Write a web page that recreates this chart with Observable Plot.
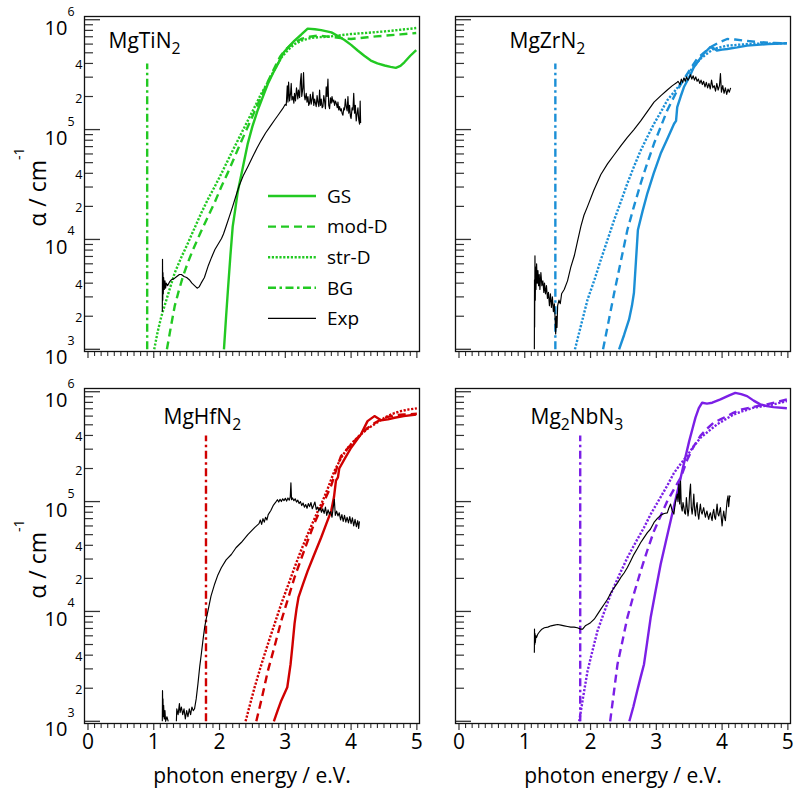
<!DOCTYPE html>
<html><head><meta charset="utf-8">
<script src="https://cdn.jsdelivr.net/npm/d3@7"></script>
<script src="https://cdn.jsdelivr.net/npm/@observablehq/plot@0.6"></script>
<style>
html,body{margin:0;padding:0;background:#fff;}
#wrap{position:relative;width:794px;height:798px;font-family:"Open Sans",sans-serif;}
</style></head><body><div id="wrap"></div>
<script>
// ---------- axis ticks & labels ----------
const energyTicks = [0, 1, 2, 3, 4, 5];
const energyTickLabels = ["0", "1", "2", "3", "4", "5"];
const energyMinorTicks = [0.1,0.2,0.3,0.4,0.5,0.6,0.7,0.8,0.9,1.1,1.2,1.3,1.4,1.5,1.6,1.7,1.8,1.9,2.1,2.2,2.3,2.4,2.5,2.6,2.7,2.8,2.9,3.1,3.2,3.3,3.4,3.5,3.6,3.7,3.8,3.9,4.1,4.2,4.3,4.4,4.5,4.6,4.7,4.8,4.9];
const decadeTicks = [1e3, 1e4, 1e5, 1e6];
const decadeLabels = ["10^{3}", "10^{4}", "10^{5}", "10^{6}"];
const minorTicksY = [2e3,3e3,4e3,5e3,6e3,7e3,8e3,9e3,2e4,3e4,4e4,5e4,6e4,7e4,8e4,9e4,2e5,3e5,4e5,5e5,6e5,7e5,8e5,9e5];
const labeledMinorTicks = [2e3, 4e3, 2e4, 4e4, 2e5, 4e5];
const labeledMinorText = ["2", "4", "2", "4", "2", "4"];
const xLabel = "photon energy / e.V.";
const yLabel = "α / cm^{-1}";

// ---------- panels & series ----------
const panelNames = ["MgTiN_{2}", "MgZrN_{2}", "MgHfN_{2}", "Mg_{2}NbN_{3}"];
const panelColors = ["#22c922", "#1b8fd6", "#d00000", "#7b1fe6"];
const seriesNames = ["GS", "mod-D", "str-D", "BG", "Exp"];

// MgTiN2  [photon energy eV, alpha cm^-1]
const TiN_GS = [[2.067,1.0e3],[2.10,2.0e3],[2.128,3.5e3],[2.165,7.1e3],[2.20,1.31e4],[2.24,1.9e4],[2.277,2.72e4],[2.35,4.4e4],[2.43,7.5e4],[2.50,1.07e5],[2.58,1.5e5],[2.66,2.0e5],[2.735,2.61e5],[2.81,3.24e5],[2.887,3.96e5],[2.978,5.06e5],[3.06,5.75e5],[3.14,6.46e5],[3.24,7.3e5],[3.34,8.3e5],[3.45,8.2e5],[3.545,8.05e5],[3.70,7.67e5],[3.80,7.1e5],[3.90,6.53e5],[4.00,5.9e5],[4.10,5.25e5],[4.20,4.7e5],[4.30,4.25e5],[4.40,4.0e5],[4.51,3.83e5],[4.60,3.72e5],[4.68,3.65e5],[4.75,3.8e5],[4.81,4.1e5],[4.90,4.7e5],[4.99,5.3e5]];
const TiN_modD = [[1.20,1.0e3],[1.26,1.6e3],[1.318,2.47e3],[1.38,3.4e3],[1.444,4.62e3],[1.52,6.2e3],[1.596,8.05e3],[1.71,1.15e4],[1.824,1.61e4],[1.93,2.2e4],[2.027,3.02e4],[2.13,4.1e4],[2.23,5.65e4],[2.33,7.8e4],[2.43,1.06e5],[2.53,1.45e5],[2.63,1.98e5],[2.73,2.7e5],[2.84,3.7e5],[2.92,4.6e5],[2.99,5.24e5],[3.10,6.0e5],[3.24,6.68e5],[3.37,7.0e5],[3.49,7.16e5],[3.62,7.05e5],[3.75,6.92e5],[3.88,6.75e5],[4.0,6.68e5],[4.12,6.8e5],[4.25,6.92e5],[4.38,7.05e5],[4.51,7.16e5],[4.75,7.35e5],[4.99,7.57e5]];
const TiN_strD = [[1.007,1.0e3],[1.06,1.45e3],[1.116,2.0e3],[1.22,3.2e3],[1.318,4.95e3],[1.42,6.9e3],[1.52,9.27e3],[1.62,1.27e4],[1.72,1.73e4],[1.82,2.3e4],[1.926,3.02e4],[2.03,4.0e4],[2.128,5.27e4],[2.23,7.0e4],[2.33,9.2e4],[2.43,1.21e5],[2.533,1.6e5],[2.63,2.1e5],[2.735,2.7e5],[2.84,3.55e5],[2.94,4.53e5],[3.04,5.3e5],[3.14,6.0e5],[3.26,6.5e5],[3.39,6.82e5],[3.52,6.95e5],[3.65,7.0e5],[3.82,7.2e5],[4.0,7.41e5],[4.25,7.6e5],[4.51,7.83e5],[4.75,8.1e5],[4.99,8.4e5]];
const TiN_BG = [[0.90,1.0e3],[0.90,4.0e5]];
const TiN_Exp = [[1.13,2.2e3],[1.133,6.6e3],[1.137,2.8e3],[1.14,5.0e3],[1.145,3.2e3],[1.15,4.5e3],[1.16,3.5e3],[1.17,4.2e3],[1.18,3.6e3],[1.19,4.0e3],[1.21,3.8e3],[1.24,4.1e3],[1.27,4.3e3],[1.31,4.4e3],[1.35,4.6e3],[1.39,4.8e3],[1.42,4.8e3],[1.46,4.6e3],[1.50,4.5e3],[1.54,4.3e3],[1.58,4.0e3],[1.62,3.8e3],[1.66,3.6e3],[1.69,3.7e3],[1.72,4.0e3],[1.77,4.5e3],[1.83,5.8e3],[1.88,6.9e3],[1.93,8.1e3],[1.98,9.1e3],[2.03,1.02e4],[2.06,1.12e4],[2.10,1.32e4],[2.15,1.62e4],[2.20,2.0e4],[2.25,2.5e4],[2.30,3.1e4],[2.36,3.8e4],[2.43,4.6e4],[2.50,5.6e4],[2.57,6.8e4],[2.63,7.9e4],[2.70,9.3e4],[2.77,1.07e5],[2.84,1.23e5],[2.90,1.38e5],[2.96,1.55e5],[3.00,1.70e5],
[3.014,1.66e5],[3.03,2.5e5],[3.04,1.78e5],[3.05,2.7e5],[3.065,1.82e5],[3.08,2.14e5],[3.09,2.63e5],[3.10,1.86e5],[3.116,2.0e5],[3.13,1.74e5],[3.14,2.14e5],[3.155,1.82e5],[3.17,2.4e5],[3.19,1.9e5],[3.20,2.29e5],[3.217,1.95e5],[3.23,2.75e5],[3.242,3.24e5],[3.25,2.0e5],[3.267,2.4e5],[3.277,3.3e5],[3.29,2.04e5],[3.30,1.86e5],[3.318,2.14e5],[3.33,1.78e5],[3.344,2.0e5],[3.356,1.66e5],[3.369,1.74e5],[3.38,2.09e5],[3.394,1.70e5],[3.41,1.95e5],[3.42,2.19e5],[3.433,1.66e5],[3.445,1.9e5],[3.458,1.74e5],[3.47,1.62e5],[3.483,2.04e5],[3.496,1.78e5],[3.51,1.62e5],[3.521,2.29e5],[3.534,1.66e5],[3.546,1.9e5],[3.56,1.58e5],[3.572,1.62e5],[3.585,2.04e5],[3.597,1.82e5],[3.61,1.55e5],[3.622,2.45e5],[3.635,2.0e5],[3.648,2.88e5],[3.66,1.66e5],[3.673,1.55e5],[3.686,1.95e5],[3.698,1.74e5],[3.71,2.0e5],[3.724,1.78e5],[3.737,1.86e5],[3.749,1.66e5],[3.762,1.82e5],[3.774,1.74e5],[3.79,1.58e5],[3.80,1.78e5],[3.812,1.51e5],[3.825,1.62e5],[3.838,1.48e5],[3.85,1.55e5],[3.863,1.41e5],[3.876,1.35e5],[3.89,1.58e5],[3.90,1.51e5],[3.913,1.9e5],[3.926,1.62e5],[3.94,1.48e5],[3.952,2.0e5],[3.965,1.41e5],[3.977,1.66e5],[3.99,1.32e5],[4.0,1.26e5],[4.015,1.58e5],[4.028,1.51e5],[4.04,2.14e5],[4.053,1.41e5],[4.065,1.66e5],[4.078,1.2e5],[4.09,1.38e5],[4.104,1.58e5],[4.116,1.23e5],[4.129,1.12e5],[4.138,1.82e5],[4.145,1.15e5]];

// MgZrN2
const ZrN_GS = [[2.434,1.0e3],[2.51,1.35e3],[2.586,1.87e3],[2.63,2.5e3],[2.66,3.27e3],[2.69,6.3e3],[2.72,1.22e4],[2.79,1.8e4],[2.864,2.63e4],[2.96,4.0e4],[3.066,6.05e4],[3.17,8.3e4],[3.27,1.13e5],[3.30,1.2e5],[3.318,1.6e5],[3.37,2.0e5],[3.42,2.44e5],[3.50,3.0e5],[3.57,3.7e5],[3.65,4.3e5],[3.72,4.9e5],[3.82,5.62e5],[3.87,5.5e5],[3.92,5.25e5],[4.0,5.35e5],[4.076,5.42e5],[4.23,5.6e5],[4.38,5.81e5],[4.7,6.0e5],[4.985,6.1e5]];
const ZrN_modD = [[2.19,1.0e3],[2.27,1.74e3],[2.36,3.27e3],[2.46,6.3e3],[2.56,1.22e4],[2.66,2.0e4],[2.763,3.24e4],[2.86,4.9e4],[2.965,7.46e4],[3.07,1.07e5],[3.167,1.5e5],[3.318,2.28e5],[3.47,3.22e5],[3.62,4.41e5],[3.72,5.0e5],[3.82,5.62e5],[3.95,6.2e5],[4.076,6.68e5],[4.2,6.6e5],[4.33,6.46e5],[4.58,6.24e5],[4.8,6.15e5],[4.985,6.1e5]];
const ZrN_strD = [[1.763,1.0e3],[1.86,1.7e3],[1.955,2.84e3],[2.06,4.3e3],[2.157,6.55e3],[2.26,1.0e4],[2.36,1.51e4],[2.46,2.2e4],[2.56,3.24e4],[2.66,4.6e4],[2.763,6.46e4],[2.86,8.5e4],[2.965,1.13e5],[3.07,1.45e5],[3.167,1.85e5],[3.27,2.2e5],[3.37,2.61e5],[3.52,3.45e5],[3.67,4.41e5],[3.77,4.9e5],[3.87,5.42e5],[4.076,5.81e5],[4.43,6.03e5],[4.985,6.1e5]];
const ZrN_BG = [[1.465,1.0e3],[1.465,4.0e5]];
const ZrN_Exp = [[1.146,1.0e3],[1.148,4.3e3],[1.15,1.6e3],[1.155,7.1e3],[1.16,2.8e3],[1.165,5.6e3],[1.17,3.5e3],[1.18,6.0e3],[1.19,4.0e3],[1.20,5.2e3],[1.21,3.8e3],[1.22,4.8e3],[1.23,3.5e3],[1.245,5.0e3],[1.26,3.8e3],[1.275,4.2e3],[1.29,3.3e3],[1.30,4.0e3],[1.315,3.2e3],[1.33,3.8e3],[1.345,2.9e3],[1.36,3.3e3],[1.375,2.5e3],[1.39,3.2e3],[1.405,2.4e3],[1.42,3.0e3],[1.435,2.2e3],[1.45,2.6e3],[1.46,2.0e3],[1.47,1.38e3],[1.48,2.0e3],[1.49,1.58e3],[1.50,2.5e3],[1.52,2.8e3],[1.54,2.6e3],[1.56,3.2e3],[1.60,3.5e3],[1.65,4.2e3],[1.70,5.6e3],[1.753,7.1e3],[1.80,9.5e3],[1.854,1.32e4],[1.90,1.66e4],[1.955,2.0e4],[2.05,2.8e4],[2.157,3.9e4],[2.26,4.9e4],[2.36,5.9e4],[2.46,7.1e4],[2.56,8.5e4],[2.66,1.0e5],[2.763,1.2e5],[2.86,1.45e5],[2.965,1.78e5],[3.07,2.04e5],[3.167,2.29e5],[3.24,2.5e5],[3.318,2.7e5],
[3.33,2.75e5],[3.36,2.57e5],[3.38,2.88e5],[3.40,2.69e5],[3.42,2.95e5],[3.44,2.75e5],[3.46,3.02e5],[3.48,2.82e5],[3.50,2.95e5],[3.52,3.16e5],[3.54,2.88e5],[3.56,3.09e5],[3.58,2.82e5],[3.60,3.02e5],[3.62,2.75e5],[3.64,2.88e5],[3.66,2.63e5],[3.68,2.82e5],[3.70,2.57e5],[3.72,2.75e5],[3.74,2.45e5],[3.76,2.69e5],[3.78,2.4e5],[3.80,2.63e5],[3.82,2.34e5],[3.84,2.82e5],[3.86,2.4e5],[3.88,2.51e5],[3.90,2.24e5],[3.92,2.63e5],[3.94,2.29e5],[3.96,2.51e5],[3.975,3.24e5],[3.99,2.19e5],[4.01,2.51e5],[4.03,2.14e5],[4.05,2.4e5],[4.07,2.09e5],[4.09,2.34e5],[4.11,2.19e5],[4.13,2.4e5]];

// MgHfN2
const HfN_GS = [[2.826,1.0e3],[2.88,1.24e3],[2.938,1.54e3],[3.03,2.04e3],[3.08,3.31e3],[3.11,5.0e3],[3.14,7.7e3],[3.17,1.05e4],[3.20,1.34e4],[3.27,1.78e4],[3.34,2.34e4],[3.44,3.3e4],[3.545,4.71e4],[3.62,6.2e4],[3.697,8.2e4],[3.74,1.1e5],[3.77,1.55e5],[3.80,1.66e5],[3.82,2.0e5],[3.91,2.5e5],[4.0,3.09e5],[4.08,3.6e5],[4.15,4.09e5],[4.25,5.4e5],[4.355,6.0e5],[4.456,5.5e5],[4.56,5.6e5],[4.66,5.8e5],[4.8,6.0e5],[4.99,6.2e5]];
const HfN_modD = [[2.559,1.0e3],[2.65,1.7e3],[2.735,2.88e3],[2.84,4.9e3],[2.938,8.2e3],[3.04,1.3e4],[3.14,2.04e4],[3.24,3.0e4],[3.34,4.39e4],[3.44,6.3e4],[3.545,8.8e4],[3.62,1.1e5],[3.70,1.41e5],[3.78,2.0e5],[3.848,2.6e5],[3.95,3.05e5],[4.05,3.55e5],[4.15,4.1e5],[4.25,4.68e5],[4.35,5.15e5],[4.456,5.6e5],[4.56,5.9e5],[4.66,6.1e5],[4.8,6.2e5],[5.0,6.3e5]];
const HfN_strD = [[2.396,1.0e3],[2.46,1.4e3],[2.533,2.04e3],[2.63,3.2e3],[2.735,5.05e3],[2.84,7.8e3],[2.938,1.17e4],[3.04,1.72e4],[3.14,2.51e4],[3.24,3.6e4],[3.34,5.05e4],[3.42,6.5e4],[3.495,8.2e4],[3.57,1.02e5],[3.646,1.32e5],[3.747,1.9e5],[3.85,2.51e5],[3.95,3.09e5],[4.05,3.6e5],[4.15,4.09e5],[4.25,4.6e5],[4.355,5.05e5],[4.457,5.55e5],[4.557,6.01e5],[4.66,6.4e5],[4.76,6.67e5],[4.88,6.9e5],[5.0,7.05e5]];
const HfN_BG = [[1.794,1.0e3],[1.794,4.0e5]];
const HfN_Exp = [[1.13,1.0e3],[1.133,1.9e3],[1.137,1.2e3],[1.14,1.6e3],[1.145,1.1e3],[1.15,1.4e3],[1.16,1.05e3],[1.17,1.25e3],[1.18,1.0e3],[1.20,1.1e3],[1.22,1.0e3],[1.225,null],[1.344,1.0e3],[1.35,1.3e3],[1.37,1.15e3],[1.39,1.45e3],[1.40,1.2e3],[1.42,1.35e3],[1.44,1.15e3],[1.46,1.3e3],[1.48,1.05e3],[1.50,1.25e3],[1.52,1.1e3],[1.54,1.3e3],[1.56,1.15e3],[1.58,1.35e3],[1.60,1.25e3],[1.62,1.3e3],[1.645,1.6e3],[1.672,2.2e3],[1.70,3.2e3],[1.723,4.1e3],[1.75,5.6e3],[1.774,7.2e3],[1.80,8.7e3],[1.824,1.01e4],[1.87,1.38e4],[1.926,1.78e4],[1.975,2.15e4],[2.027,2.5e4],[2.10,2.95e4],[2.179,3.3e4],[2.25,3.8e4],[2.33,4.24e4],[2.43,5.0e4],[2.533,5.8e4],[2.60,6.3e4],[2.62,6.8e4],[2.64,6.2e4],[2.66,7.0e4],[2.68,6.5e4],[2.70,7.2e4],[2.72,6.8e4],[2.74,7.6e4],[2.78,8.3e4],[2.82,9.3e4],
[2.86,1.0e5],[2.88,1.04e5],[2.90,9.9e4],[2.92,1.05e5],[2.94,1.0e5],[2.96,1.06e5],[2.98,1.02e5],[3.00,1.07e5],[3.02,1.01e5],[3.04,1.08e5],[3.06,1.03e5],[3.075,1.1e5],[3.085,1.48e5],[3.095,1.04e5],[3.11,1.08e5],[3.13,1.02e5],[3.15,1.06e5],[3.17,9.9e4],[3.19,1.03e5],[3.21,9.6e4],[3.23,1.0e5],[3.25,9.2e4],[3.27,9.7e4],[3.29,8.9e4],[3.31,9.4e4],[3.33,8.7e4],[3.35,9.6e4],[3.37,9.0e4],[3.39,9.8e4],[3.41,8.6e4],[3.43,9.2e4],[3.45,9.9e4],[3.47,8.5e4],[3.49,8.9e4],[3.51,8.2e4],[3.53,8.8e4],[3.55,8.0e4],[3.57,8.6e4],[3.59,7.8e4],[3.61,8.9e4],[3.63,7.5e4],[3.65,8.4e4],[3.67,7.7e4],[3.69,8.1e4],[3.71,7.2e4],[3.73,9.0e4],[3.745,1.05e5],[3.76,7.5e4],[3.78,8.2e4],[3.80,7.4e4],[3.82,7.9e4],[3.84,6.8e4],[3.86,7.6e4],[3.88,6.6e4],[3.90,7.5e4],[3.92,6.5e4],[3.94,7.2e4],[3.96,6.4e4],[3.98,7.3e4],[4.00,6.3e4],[4.02,7.1e4],[4.04,6.0e4],[4.06,6.9e4],[4.08,5.9e4],[4.10,6.7e4],[4.115,5.7e4],[4.127,6.6e4]];

// Mg2NbN3
const NbN_GS = [[2.59,1.0e3],[2.65,1.35e3],[2.71,1.9e3],[2.76,2.5e3],[2.813,3.31e3],[2.86,5.2e3],[2.914,8.8e3],[2.99,1.55e4],[3.066,2.69e4],[3.14,4.2e4],[3.217,6.67e4],[3.29,1.03e5],[3.37,1.65e5],[3.44,2.51e5],[3.50,3.55e5],[3.55,4.6e5],[3.595,5.81e5],[3.646,7.08e5],[3.697,7.94e5],[3.77,7.8e5],[3.85,7.94e5],[3.975,8.51e5],[4.1,9.2e5],[4.2,9.77e5],[4.29,9.5e5],[4.38,9.12e5],[4.48,8.3e5],[4.58,7.67e5],[4.68,7.4e5],[4.78,7.24e5],[4.985,7.08e5]];
const NbN_modD = [[2.298,1.0e3],[2.35,1.74e3],[2.41,3.31e3],[2.48,5.2e3],[2.56,8.8e3],[2.66,1.45e4],[2.763,2.34e4],[2.86,3.55e4],[2.965,5.41e4],[3.066,7.4e4],[3.167,1.01e5],[3.27,1.3e5],[3.37,1.65e5],[3.47,2.4e5],[3.57,3.2e5],[3.67,3.96e5],[3.77,4.6e5],[3.876,5.25e5],[3.975,5.6e5],[4.076,6.0e5],[4.177,6.46e5],[4.3,6.9e5],[4.43,7.16e5],[4.53,7.4e5],[4.68,7.67e5],[4.85,8.1e5],[4.985,8.5e5]];
const NbN_strD = [[1.828,1.0e3],[1.89,1.7e3],[1.955,2.88e3],[2.03,4.4e3],[2.106,6.67e3],[2.2,9.6e3],[2.308,1.44e4],[2.43,2.1e4],[2.56,3.09e4],[2.69,4.3e4],[2.813,5.81e4],[2.914,7.67e4],[3.066,1.1e5],[3.167,1.4e5],[3.268,1.82e5],[3.37,2.2e5],[3.47,2.63e5],[3.57,3.2e5],[3.67,3.8e5],[3.8,4.4e5],[3.924,5.05e5],[4.05,5.6e5],[4.177,6.22e5],[4.33,6.7e5],[4.48,7.16e5],[4.63,7.4e5],[4.78,7.67e5],[4.985,8.22e5]];
const NbN_BG = [[1.843,1.0e3],[1.843,4.0e5]];
const NbN_Exp = [[1.146,4.2e3],[1.148,6.9e3],[1.152,5.0e3],[1.156,6.3e3],[1.16,5.2e3],[1.17,6.0e3],[1.18,5.8e3],[1.197,6.2e3],[1.23,6.6e3],[1.26,6.9e3],[1.298,7.1e3],[1.35,7.2e3],[1.40,7.4e3],[1.45,7.5e3],[1.50,7.6e3],[1.55,7.5e3],[1.60,7.4e3],[1.65,7.3e3],[1.70,7.2e3],[1.75,7.2e3],[1.80,7.1e3],[1.85,6.9e3],[1.88,6.9e3],[1.92,7.4e3],[1.955,7.6e3],[2.0,7.9e3],[2.056,8.5e3],[2.10,9.3e3],[2.157,1.05e4],[2.21,1.17e4],[2.258,1.29e4],[2.31,1.48e4],[2.36,1.65e4],[2.41,1.82e4],[2.46,2.04e4],[2.51,2.24e4],[2.56,2.51e4],[2.61,2.88e4],[2.66,3.31e4],[2.71,3.72e4],[2.763,4.24e4],[2.81,4.68e4],[2.864,5.22e4],[2.91,5.6e4],[2.965,6.46e4],[3.02,7.08e4],[3.066,7.5e4],[3.12,7.8e4],[3.167,7.9e4],
[3.19,8.7e4],[3.217,9.5e4],[3.24,8.3e4],[3.267,7.7e4],[3.29,9.8e4],[3.318,1.17e5],[3.33,1.0e5],[3.343,1.44e5],[3.355,9.5e4],[3.368,1.54e5],[3.38,9.0e4],[3.394,8.2e4],[3.406,9.8e4],[3.419,8.9e4],[3.431,7.9e4],[3.444,7.7e4],[3.457,1.09e5],[3.47,8.8e4],[3.482,7.4e4],[3.494,8.5e4],[3.507,1.2e5],[3.52,1.44e5],[3.532,8.8e4],[3.545,7.7e4],[3.557,9.0e4],[3.57,1.17e5],[3.582,8.5e4],[3.595,7.4e4],[3.607,8.9e4],[3.62,9.8e4],[3.633,7.7e4],[3.646,6.9e4],[3.658,8.3e4],[3.67,9.5e4],[3.683,8.1e4],[3.696,7.7e4],[3.708,8.3e4],[3.72,8.8e4],[3.733,7.9e4],[3.747,7.2e4],[3.76,7.9e4],[3.77,8.2e4],[3.784,7.4e4],[3.797,6.9e4],[3.81,7.6e4],[3.823,7.9e4],[3.836,7.2e4],[3.848,6.7e4],[3.86,7.9e4],[3.873,8.5e4],[3.887,7.2e4],[3.9,6.9e4],[3.912,8.1e4],[3.924,9.5e4],[3.937,7.7e4],[3.95,7.4e4],[3.962,8.1e4],[3.975,8.8e4],[3.987,7.2e4],[4.0,6.0e4],[4.012,7.2e4],[4.025,8.2e4],[4.037,7.2e4],[4.05,6.7e4],[4.063,8.3e4],[4.076,1.01e5],[4.09,1.13e5],[4.10,9.0e4],[4.116,1.13e5],[4.125,1.1e5]];

// ---------- assemble ----------
const panels = [
  {name: panelNames[0], col: "L", row: "T", color: panelColors[0], series: {"GS": TiN_GS, "mod-D": TiN_modD, "str-D": TiN_strD, "BG": TiN_BG, "Exp": TiN_Exp}},
  {name: panelNames[1], col: "R", row: "T", color: panelColors[1], series: {"GS": ZrN_GS, "mod-D": ZrN_modD, "str-D": ZrN_strD, "BG": ZrN_BG, "Exp": ZrN_Exp}},
  {name: panelNames[2], col: "L", row: "B", color: panelColors[2], series: {"GS": HfN_GS, "mod-D": HfN_modD, "str-D": HfN_strD, "BG": HfN_BG, "Exp": HfN_Exp}},
  {name: panelNames[3], col: "R", row: "B", color: panelColors[3], series: {"GS": NbN_GS, "mod-D": NbN_modD, "str-D": NbN_strD, "BG": NbN_BG, "Exp": NbN_Exp}}
];
const rows = panels.flatMap(p => seriesNames.flatMap(s => p.series[s].map(([E, a]) => ({col: p.col, row: p.row, series: s, E, a, color: s === "Exp" ? "#000000" : p.color}))));

const lineStyles = {
  "GS": {strokeWidth: 2.4},
  "mod-D": {strokeWidth: 2.4, strokeDasharray: "8,5"},
  "str-D": {strokeWidth: 2.4, strokeDasharray: "2.2,1.6"},
  "BG": {strokeWidth: 2.4, strokeDasharray: "8,3.5,2.5,3.5"},
  "Exp": {strokeWidth: 1.15}
};
const titleOffsets = [[24, 31], [54, 31], [79, 35], [75, 35]];

const lineMarks = seriesNames.map(s => Plot.line(rows.filter(d => d.series === s), {
  x: "E", y: "a", fx: "col", fy: "row", stroke: "color", z: "col",
  strokeLinecap: "butt", strokeLinejoin: "round", ...lineStyles[s]
}));

const titleMarks = panels.map((p, i) => Plot.text([p], {
  fx: "col", fy: "row", text: "name", frameAnchor: "top-left", textAnchor: "start", lineAnchor: "bottom",
  dx: titleOffsets[i][0], dy: titleOffsets[i][1], fontSize: 21
}));

const chart = Plot.plot({
  width: 794, height: 798,
  marginLeft: 83, marginRight: 3.5, marginTop: 16, marginBottom: 75,
  style: {fontFamily: "'Open Sans', sans-serif", color: "#000", background: "white", overflow: "visible"},
  fx: {domain: ["L", "R"], paddingInner: 0.098, paddingOuter: 0, axis: null, label: null},
  fy: {domain: ["T", "B"], paddingInner: 0.0995, paddingOuter: 0, axis: null, label: null},
  x: {domain: [-0.053, 5.04], axis: null},
  y: {type: "log", domain: [955, 1.07e6], axis: null},
  color: {type: "identity"},
  marks: [
    // y ticks (inward), every panel
    Plot.axisY(decadeTicks, {anchor: "left", tickSize: -16, fill: "none", stroke: "#333", strokeWidth: 1.3, facetAnchor: null, label: null}),
    Plot.axisY(minorTicksY, {anchor: "left", tickSize: -9, fill: "none", stroke: "#333", strokeWidth: 1.2, facetAnchor: null, label: null}),
    // x ticks (outward), every panel
    Plot.axisX(energyTicks, {anchor: "bottom", tickSize: 7, fill: "none", stroke: "#333", strokeWidth: 1.2, facetAnchor: null, label: null}),
    Plot.axisX(energyMinorTicks, {anchor: "bottom", tickSize: 5, fill: "none", stroke: "#333", strokeWidth: 1.1, facetAnchor: null, label: null}),
    // x tick labels, bottom row
    Plot.axisX(energyTicks, {anchor: "bottom", tickSize: 0, tickPadding: 11, fontSize: 21, tickFormat: d => energyTickLabels[energyTicks.indexOf(d)], facetAnchor: "bottom", label: null}),
    // y tick labels, left column
    Plot.text(decadeTicks, {y: d => d, text: (d, i) => decadeLabels[i], frameAnchor: "left", textAnchor: "end", lineAnchor: "bottom", dx: -10, dy: 15, fontSize: 20, facetAnchor: "left"}),
    Plot.text(labeledMinorTicks, {y: d => d, text: (d, i) => labeledMinorText[i], frameAnchor: "left", textAnchor: "end", dx: -2, dy: 2, fontSize: 12.5, facetAnchor: "left"}),
    // axis titles
    Plot.text([yLabel], {text: d => d, frameAnchor: "left", rotate: -90, textAnchor: "middle", lineAnchor: "bottom", dx: -39, dy: 3, fontSize: 23, facetAnchor: "left"}),
    Plot.text([xLabel], {text: d => d, frameAnchor: "bottom", textAnchor: "middle", lineAnchor: "bottom", dy: 59, fontSize: 21, facetAnchor: "bottom"}),
    ...lineMarks,
    ...titleMarks,
    Plot.frame({stroke: "#111", strokeWidth: 1.3})
  ]
});

const wrap = document.getElementById("wrap");
wrap.appendChild(chart);

// rich text (sub/superscripts) as real tspans
function applyRich(root) {
  root.querySelectorAll("text").forEach(t => {
    const s = t.textContent;
    if (!/[_^]\{/.test(s)) return;
    const fs = parseFloat(getComputedStyle(t).fontSize) || 16;
    const parts = s.split(/([_^]\{[^}]*\})/).filter(p => p !== "");
    while (t.firstChild) t.removeChild(t.firstChild);
    let shift = 0;
    for (const p of parts) {
      const ts = document.createElementNS("http://www.w3.org/2000/svg", "tspan");
      let off = 0, txt = p, size = null;
      if (p.startsWith("_{")) { off = 0.3 * fs; size = 0.75 * fs; txt = p.slice(2, -1); }
      else if (p.startsWith("^{")) { off = -0.95 * fs; size = 0.62 * fs; txt = p.slice(2, -1); }
      const dy = off - shift;
      if (dy) ts.setAttribute("dy", dy.toFixed(2));
      if (size) ts.setAttribute("font-size", size.toFixed(2));
      ts.textContent = txt;
      t.appendChild(ts);
      shift = off;
    }
  });
}
applyRich(chart);

// legend (top-left panel)
const legendX1 = 268, legendX2 = 316, legendTextX = 327, legendTop = 196, legendStep = 30.6;
const legend = d3.create("svg")
  .attr("width", 794).attr("height", 798)
  .style("position", "absolute").style("left", "0px").style("top", "0px").style("pointer-events", "none");
const lg = legend.append("g").attr("font-family", "'Open Sans', sans-serif").attr("font-size", 19).attr("fill", "#000");
seriesNames.forEach((s, i) => {
  const y = legendTop + i * legendStep;
  lg.append("line").attr("x1", legendX1).attr("x2", legendX2).attr("y1", y).attr("y2", y)
    .attr("stroke", s === "Exp" ? "#000" : panelColors[0])
    .attr("stroke-width", lineStyles[s].strokeWidth)
    .attr("stroke-dasharray", lineStyles[s].strokeDasharray || null);
  lg.append("text").attr("x", legendTextX).attr("y", y + 6.8).text(s);
});
wrap.appendChild(legend.node());
</script></body></html>
